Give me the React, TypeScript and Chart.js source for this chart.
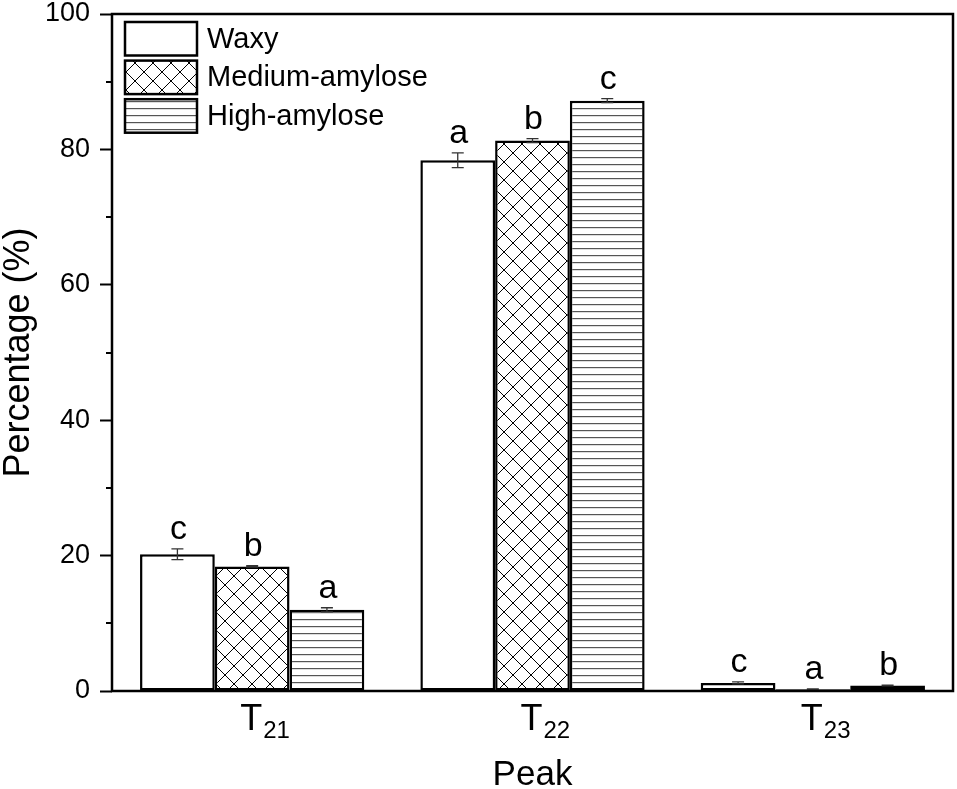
import React, { useEffect, useRef } from "react";
import { Chart, registerables } from "chart.js";

Chart.register(...registerables);

const FONT = '"Liberation Sans", Arial, Helvetica, sans-serif';

// ---- data ----
const categories = ["T21", "T22", "T23"];
const seriesNames = ["Waxy", "Medium-amylose", "High-amylose"];

const waxy = [20.2, 78.4, 1.2];
const waxyErr = [0.8, 1.1, 0.15];
const waxyLetters = ["c", "a", "c"];

const medium = [18.4, 81.3, 0.25];
const mediumErr = [0.1, 0.3, 0.05];
const mediumLetters = ["b", "b", "a"];

const high = [12.0, 87.2, 0.8];
const highErr = [0.3, 0.3, 0.05];
const highLetters = ["a", "c", "b"];

const yMin = 0;
const yMax = 100;
const yStep = 20;
const yMinorStep = 10;

const xTitle = "Peak";
const yTitle = "Percentage (%)";

const errors = [waxyErr, mediumErr, highErr];
const letters = [waxyLetters, mediumLetters, highLetters];

function makeCrossPattern(): CanvasPattern | string {
  const c = document.createElement("canvas");
  const s = 18;
  c.width = s;
  c.height = s;
  const g = c.getContext("2d");
  if (!g) return "#fff";
  g.fillStyle = "#fff";
  g.fillRect(0, 0, s, s);
  g.strokeStyle = "#000";
  g.lineWidth = 1;
  g.beginPath();
  g.moveTo(-1, -1);
  g.lineTo(s + 1, s + 1);
  g.moveTo(s + 1, -1);
  g.lineTo(-1, s + 1);
  g.stroke();
  return g.createPattern(c, "repeat") || "#fff";
}

function makeHLinePattern(): CanvasPattern | string {
  const c = document.createElement("canvas");
  c.width = 8;
  c.height = 7;
  const g = c.getContext("2d");
  if (!g) return "#fff";
  g.fillStyle = "#fff";
  g.fillRect(0, 0, 8, 7);
  g.fillStyle = "#555";
  g.fillRect(0, 3, 8, 1.2);
  return g.createPattern(c, "repeat") || "#fff";
}

const decorPlugin = {
  id: "decor",
  afterDatasetsDraw(chart: any) {
    const ctx = chart.ctx as CanvasRenderingContext2D;
    const yScale = chart.scales.y;
    chart.data.datasets.forEach((ds: any, i: number) => {
      const meta = chart.getDatasetMeta(i);
      meta.data.forEach((el: any, j: number) => {
        const v = ds.data[j] as number;
        const e = errors[i][j];
        const x = el.x;
        const yTop = yScale.getPixelForValue(v + e);
        const yBot = yScale.getPixelForValue(v - e);
        ctx.save();
        ctx.strokeStyle = "#333";
        ctx.lineWidth = 1.3;
        ctx.beginPath();
        ctx.moveTo(x, yTop);
        ctx.lineTo(x, yBot);
        ctx.moveTo(x - 6, yTop);
        ctx.lineTo(x + 6, yTop);
        ctx.moveTo(x - 6, yBot);
        ctx.lineTo(x + 6, yBot);
        ctx.stroke();
        ctx.fillStyle = "#000";
        ctx.font = `34px ${FONT}`;
        ctx.textAlign = "center";
        ctx.textBaseline = "alphabetic";
        ctx.fillText(letters[i][j], x + 1, yTop - 10);
        ctx.restore();
      });
    });
  },
  afterDraw(chart: any) {
    const ctx = chart.ctx as CanvasRenderingContext2D;
    const { left, right, top, bottom } = chart.chartArea;
    const yScale = chart.scales.y;
    const xScale = chart.scales.x;
    ctx.save();
    // minor ticks
    ctx.strokeStyle = "#000";
    ctx.lineWidth = 2;
    ctx.beginPath();
    for (let v = yMin + yMinorStep; v < yMax; v += yStep) {
      const y = Math.round(yScale.getPixelForValue(v));
      ctx.moveTo(left - 6, y);
      ctx.lineTo(left, y);
    }
    ctx.stroke();
    // frame
    ctx.lineWidth = 2.5;
    ctx.strokeRect(left, top, right - left, bottom - top);
    // x tick labels with subscripts
    ctx.fillStyle = "#000";
    ctx.textBaseline = "alphabetic";
    ctx.textAlign = "left";
    categories.forEach((cat, i) => {
      const m = cat.match(/^([^\d]+)(\d+)$/);
      const main = m ? m[1] : cat;
      const sub = m ? m[2] : "";
      const x = xScale.getPixelForValue(i);
      ctx.font = `36px ${FONT}`;
      const wMain = ctx.measureText(main).width;
      const x0 = x - wMain / 2 - 1;
      ctx.fillText(main, x0, 730);
      ctx.font = `24px ${FONT}`;
      ctx.fillText(sub, x0 + wMain + 1, 738);
    });
    // legend
    chart.data.datasets.forEach((ds: any, i: number) => {
      const bx = 125;
      const by = 22 + i * 38.6;
      const bw = 72;
      const bh = 33.5;
      ctx.fillStyle = ds.backgroundColor;
      ctx.fillRect(bx, by, bw, bh);
      ctx.strokeStyle = "#000";
      ctx.lineWidth = 2.5;
      ctx.strokeRect(bx, by, bw, bh);
      ctx.fillStyle = "#000";
      ctx.font = `29px ${FONT}`;
      ctx.textAlign = "left";
      ctx.textBaseline = "middle";
      ctx.fillText(ds.label, 207, by + bh / 2 + 1);
    });
    ctx.restore();
  },
};

export default function App() {
  const ref = useRef<HTMLCanvasElement | null>(null);
  useEffect(() => {
    if (!ref.current) return;
    const fills = ["#fff", makeCrossPattern(), makeHLinePattern()];
    const values = [waxy, medium, high];
    const chart = new Chart(ref.current, {
      type: "bar",
      data: {
        labels: categories,
        datasets: seriesNames.map((name, i) => ({
          label: name,
          data: values[i],
          backgroundColor: fills[i] as any,
          borderColor: "#000",
          borderWidth: 2.5,
          borderSkipped: false,
          categoryPercentage: 0.8,
          barPercentage: 1,
        })),
      },
      options: {
        responsive: false,
        animation: false,
        layout: { padding: { top: 14, right: 4, left: 0, bottom: 0 } },
        plugins: { legend: { display: false }, tooltip: { enabled: false } },
        scales: {
          x: {
            type: "category",
            offset: true,
            grid: { display: false },
            border: { display: false },
            ticks: { display: false },
            title: {
              display: true,
              text: xTitle,
              color: "#000",
              font: { family: FONT, size: 35, lineHeight: 0.8 },
              padding: { top: 0, bottom: 0 },
            },
            afterFit: (s: any) => {
              s.height = 98;
              s.paddingLeft = 0;
              s.paddingRight = 0;
            },
          },
          y: {
            min: yMin,
            max: yMax,
            ticks: {
              stepSize: yStep,
              color: "#000",
              font: { family: FONT, size: 27, lineHeight: 1 },
              padding: 10,
            },
            grid: {
              drawOnChartArea: false,
              drawTicks: true,
              tickLength: 12,
              tickWidth: 2,
              tickColor: "#000",
            },
            border: { display: false },
            title: {
              display: true,
              text: yTitle,
              color: "#000",
              font: { family: FONT, size: 36, lineHeight: 1 },
              padding: { top: 1, bottom: 0 },
            },
            afterFit: (s: any) => {
              s.width = 112;
              s.paddingTop = 0;
              s.paddingBottom = 0;
            },
          },
        },
      } as any,
      plugins: [decorPlugin],
    });
    return () => chart.destroy();
  }, []);
  return (
    <div style={{ position: "absolute", left: 0, top: 0, width: 957, height: 789, background: "#fff" }}>
      <canvas ref={ref} width={957} height={789} style={{ display: "block" }} />
    </div>
  );
}
